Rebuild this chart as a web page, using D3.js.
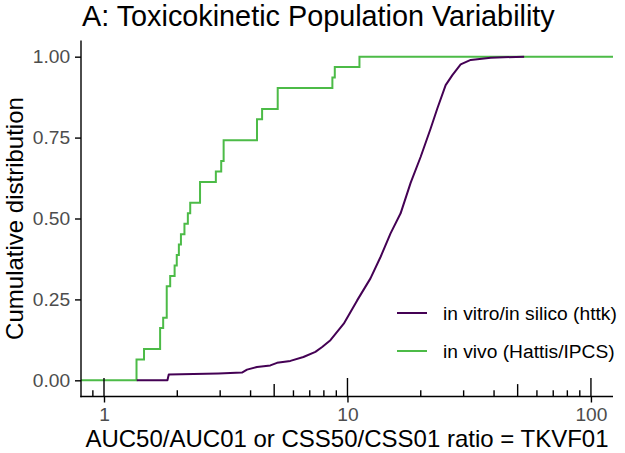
<!DOCTYPE html>
<html><head><meta charset="utf-8">
<script src="https://cdn.jsdelivr.net/npm/d3@7"></script>
<style>
body{margin:0;background:#fff}
text{font-family:"Liberation Sans",Arial,Helvetica,sans-serif}
</style>
</head><body>
<svg id="chart" width="625" height="453"></svg>
<script>
// ---- data ----
const chartTitle = "A: Toxicokinetic Population Variability";
const xLabel = "AUC50/AUC01 or CSS50/CSS01 ratio = TKVF01";
const yLabel = "Cumulative distribution";
const seriesNames = ["in vitro/in silico (httk)", "in vivo (Hattis/IPCS)"];
const seriesColors = ["#440154", "#4CBB47"];

// in vivo (Hattis/IPCS): individual TKVF01 values (31 chemicals)
const invivoRatios = [1.36,1.36,1.46,1.70,1.70,1.75,1.81,1.81,1.81,1.87,1.95,1.99,2.03,2.07,2.14,
  2.21,2.26,2.48,2.48,2.88,3.03,3.10,3.10,4.25,4.25,4.46,5.17,5.17,8.67,8.87,11.2];

const httkRatio = [1.363,1.822,1.845,2.953,3.687,3.867,4.250,4.822,5.137,5.828,6.592,7.384,7.870,
  8.511,9.656,10.96,12.43,13.67,15.03,16.53,18.17,19.97,21.96,23.39,25.31,26.97,29.17,32.07,38.77,53.17];
const httkCum = [0,0,0.018,0.021,0.024,0.033,0.041,0.046,0.054,0.060,0.072,0.088,0.103,
  0.124,0.175,0.247,0.315,0.381,0.454,0.516,0.61,0.69,0.778,0.84,0.912,0.943,0.976,0.990,0.997,1.0];

const xTickValues = [1, 10, 100];
const xTickLabels = ["1", "10", "100"];
const yTickValues = [0, 0.25, 0.5, 0.75, 1];
const yTickLabels = ["0.00", "0.25", "0.50", "0.75", "1.00"];

// ---- layout ----
const svg = d3.select("#chart");
const P = {left: 81, right: 613, top: 40.5, bottom: 396.5};
const x = d3.scaleLog().domain([0.8045, 123.2]).range([P.left, P.right]);
const y = d3.scaleLinear().domain([-0.05, 1.05]).range([P.bottom, P.top]);
const tickCol = "#4D4D4D";

// title
svg.append("text").attr("x", 82).attr("y", 26).attr("font-size", 28.8)
  .attr("fill", "#000").text(chartTitle);

// data lines
const lineGen = d3.line().x(d => x(d[0])).y(d => y(d[1]));

// in vivo ECDF (padded to panel edges)
const sorted = invivoRatios.slice().sort(d3.ascending);
const uniq = Array.from(new Set(sorted));
const N = sorted.length;
const vivoPts = [[x.domain()[0], 0]];
uniq.forEach(v => vivoPts.push([v, d3.bisectRight(sorted, v) / N]));
vivoPts.push([x.domain()[1], 1]);
svg.append("path").datum(vivoPts)
  .attr("d", lineGen.curve(d3.curveStepAfter))
  .attr("fill", "none").attr("stroke", seriesColors[1]).attr("stroke-width", 2);

const httkPts = httkRatio.map((v, i) => [v, httkCum[i]]);
svg.append("path").datum(httkPts)
  .attr("d", d3.line().x(d => x(d[0])).y(d => y(d[1])))
  .attr("fill", "none").attr("stroke", seriesColors[0]).attr("stroke-width", 2)
  .attr("stroke-linejoin", "round");

// log ticks inside panel at bottom
const logTicks = [];
[0.1, 1, 10, 100].forEach(dec => {
  for (let k = 1; k <= 9; k++) {
    const v = k * dec;
    if (v >= x.domain()[0] && v <= x.domain()[1]) logTicks.push({v, len: k === 1 ? 18.5 : (k === 5 ? 12.4 : 6.2)});
  }
});
svg.append("g").selectAll("line").data(logTicks).join("line")
  .attr("x1", d => x(d.v)).attr("x2", d => x(d.v))
  .attr("y1", P.bottom).attr("y2", d => P.bottom - d.len)
  .attr("stroke", "#000").attr("stroke-width", 1.4);

// x axis
const xAxis = d3.axisBottom(x).tickValues(xTickValues)
  .tickFormat((d, i) => xTickLabels[i]).tickSizeInner(6).tickSizeOuter(0).tickPadding(4.8);
const gx = svg.append("g").attr("transform", `translate(0,${P.bottom})`).call(xAxis);
gx.select(".domain").remove();
gx.append("line").attr("x1", P.left - 0.7).attr("x2", P.right).attr("stroke", "#000").attr("stroke-width", 1.4);
gx.selectAll(".tick line").attr("stroke", "#000").attr("stroke-width", 1.4);
gx.selectAll(".tick text").attr("fill", tickCol).attr("font-size", 19.2)
  .attr("font-family", "Liberation Sans, Arial, sans-serif");

// y axis
const yAxis = d3.axisLeft(y).tickValues(yTickValues)
  .tickFormat((d, i) => yTickLabels[i]).tickSizeInner(6).tickSizeOuter(0).tickPadding(4.8);
const gy = svg.append("g").attr("transform", `translate(${P.left},0)`).call(yAxis);
gy.select(".domain").remove();
gy.append("line").attr("y1", P.top).attr("y2", P.bottom + 0.7).attr("stroke", "#000").attr("stroke-width", 1.4);
gy.selectAll(".tick line").attr("stroke", "#000").attr("stroke-width", 1.4);
gy.selectAll(".tick text").attr("fill", tickCol).attr("font-size", 19.2)
  .attr("font-family", "Liberation Sans, Arial, sans-serif");

// axis titles
svg.append("text").attr("x", (P.left + P.right) / 2).attr("y", 447)
  .attr("text-anchor", "middle").attr("font-size", 24).text(xLabel);
svg.append("text").attr("transform", `translate(23,${(P.top + P.bottom) / 2}) rotate(-90)`)
  .attr("text-anchor", "middle").attr("font-size", 24).text(yLabel);

// legend
const lg = svg.append("g");
seriesNames.forEach((name, i) => {
  const ly = 313 + i * 38;
  lg.append("line").attr("x1", 397).attr("x2", 427).attr("y1", ly).attr("y2", ly)
    .attr("stroke", seriesColors[i]).attr("stroke-width", 2);
  lg.append("text").attr("x", 443).attr("y", ly).attr("dy", "0.35em")
    .attr("font-size", 19.2).attr("fill", "#000").text(name);
});
</script>
</body></html>
